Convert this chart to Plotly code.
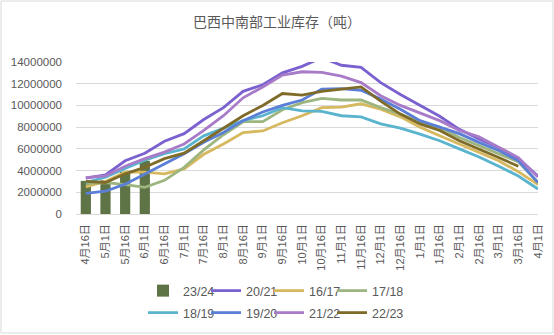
import plotly.graph_objects as go

cats = ["4月16日","5月1日","5月16日","6月1日","6月16日","7月1日","7月16日","8月1日",
        "8月16日","9月1日","9月16日","10月1日","10月16日","11月1日","11月16日","12月1日",
        "12月16日","1月1日","1月16日","2月1日","2月16日","3月1日","3月16日","4月1日"]

s2324 = [3050000, 3100000, 3900000, 4900000]
s2021 = [3.3, 3.6, 4.9, 5.6, 6.7, 7.4, 8.7, 9.8, 11.3, 11.9, 13.0, 13.6, 14.4, 13.7, 13.5, 12.1,
         11.0, 10.0, 9.0, 7.8, 6.9, 6.1, 5.1, 3.5]
s1617 = [2.5, 3.0, 3.85, 3.85, 3.7, 4.15, 5.5, 6.45, 7.5, 7.65, 8.4, 9.05, 9.8, 9.85, 10.15, 9.65,
         8.95, 8.0, 7.2, 6.45, 5.7, 4.9, 3.9, 2.7]
s1718 = [2.8, 2.9, 2.7, 2.45, 3.1, 4.3, 5.9, 7.3, 8.5, 8.5, 9.6, 10.25, 10.65, 10.5, 10.5, 9.8,
         9.2, 8.45, 8.0, 7.05, 6.3, 5.55, 4.8, 2.9]
s1819 = [2.9, 3.4, 4.2, 4.95, 5.55, 6.0, 7.2, 7.9, 8.6, 9.05, 9.8, 9.5, 9.45, 9.05, 8.95, 8.3,
         7.9, 7.35, 6.75, 6.0, 5.25, 4.4, 3.5, 2.3]
s1920 = [1.9, 2.1, 2.75, 3.7, 4.6, 5.55, 6.6, 7.5, 8.6, 9.4, 10.0, 10.5, 11.5, 11.55, 11.4, 10.6,
         9.65, 8.6, 8.0, 7.4, 6.6, 5.85, 4.9, 2.9]
s2122 = [3.35, 3.5, 4.4, 5.1, 5.7, 6.45, 7.7, 9.05, 10.7, 11.7, 12.8, 13.1, 13.05, 12.7, 12.1, 10.9,
         10.0, 9.3, 8.6, 7.7, 7.1, 6.15, 5.2, 3.4]
s2223 = [3.0, 2.9, 3.7, 4.3, 5.1, 5.6, 6.75, 7.9, 9.05, 10.0, 11.1, 10.95, 11.3, 11.5, 11.7, 10.4,
         9.2, 8.3, 7.7, 6.75, 6.0, 5.2, 4.4]

M = 1_000_000
FONT = "Liberation Sans, Noto Sans CJK SC, sans-serif"
GRAY = "#595959"
W, H = 554, 335

lines = [
    ("20/21", s2021, "#7B61CF"),
    ("16/17", s1617, "#D6B85E"),
    ("17/18", s1718, "#9DB57F"),
    ("18/19", s1819, "#5BB4CE"),
    ("19/20", s1920, "#5B7FD6"),
    ("21/22", s2122, "#A87BC9"),
    ("22/23", s2223, "#7F6B28"),
]

legend_ids = ["legend"] + [f"legend{i}" for i in range(2, 9)]

fig = go.Figure()
fig.add_trace(go.Bar(x=cats[:len(s2324)], y=s2324, name="23/24", marker_color="#5F7446",
                     marker_line_width=0, legend=legend_ids[0]))
for i, (name, vals, color) in enumerate(lines, start=1):
    fig.add_trace(go.Scatter(x=cats[:len(vals)], y=[v * M for v in vals], name=name,
                             mode="lines", line=dict(color=color, width=2.8),
                             legend=legend_ids[i]))

L, R, T, B = 76, 16, 62, 121
PW, PH = W - L - R, H - T - B
BOTTOM = H - B

text_x = [183, 246, 309, 372]
row_y = [291, 313]
legends = {}
for k, lid in enumerate(legend_ids):
    tx = text_x[k % 4] - 40
    ty = row_y[k // 4]
    legends[lid] = dict(orientation="h", xref="paper", yref="paper",
                        x=(tx - L) / PW, xanchor="left", y=(BOTTOM - ty) / PH, yanchor="middle",
                        font=dict(size=12.5, color=GRAY), bgcolor="rgba(0,0,0,0)",
                        itemwidth=30, borderwidth=0)

fig.update_layout(
    width=W, height=H,
    margin=dict(l=L, r=R, t=T, b=B, autoexpand=False),
    paper_bgcolor="white", plot_bgcolor="white",
    font=dict(family=FONT, color=GRAY, size=11),
    title=dict(text="巴西中南部工业库存（吨）", x=0.5, xref="container", xanchor="center",
               y=1 - 22 / H, yanchor="middle",
               font=dict(size=14, color=GRAY, family=FONT)),
    bargap=0.48,
    showlegend=True,
    shapes=[dict(type="rect", xref="paper", yref="paper",
                 x0=(1 - L) / PW, x1=(553 - L) / PW,
                 y0=(BOTTOM - 333) / PH, y1=(BOTTOM - 1) / PH,
                 line=dict(color="#D9D9D9", width=1), fillcolor="rgba(0,0,0,0)", layer="below")],
    **legends,
)
fig.update_xaxes(type="category", tickangle=-90, tickfont=dict(size=11, color=GRAY),
                 showgrid=False, showline=False, ticks="", automargin=False,
                 ticklabelstandoff=7)
fig.update_yaxes(range=[0, 14 * M], dtick=2 * M, tickformat="d", showgrid=True,
                 gridcolor="#D9D9D9", gridwidth=1, zeroline=True, zerolinecolor="#D9D9D9",
                 zerolinewidth=1, showline=False, ticks="", tickfont=dict(size=11.5, color=GRAY),
                 ticklabelstandoff=13, automargin=False)

fig.write_html("out.html")
